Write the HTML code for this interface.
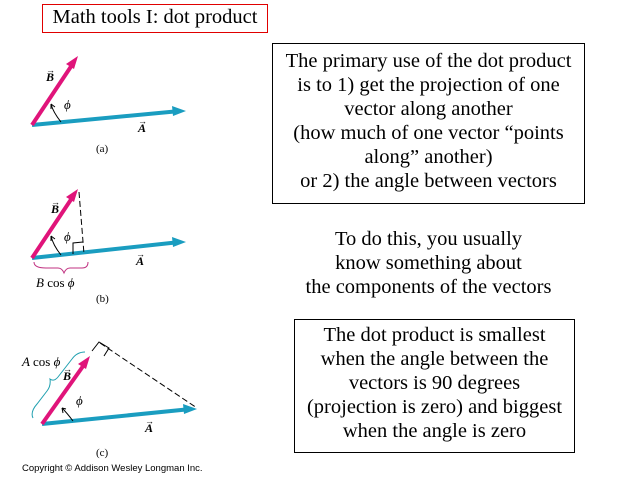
<!DOCTYPE html>
<html><head><style>
body{margin:0;width:640px;height:480px;background:#fff;position:relative;overflow:hidden;font-family:"Liberation Serif",serif;}
.t{position:absolute;font-size:20.5px;line-height:24px;text-align:center;color:#000;white-space:nowrap}
.box{position:absolute;border:1px solid #000;}
</style></head><body>
<div class="box" style="left:42px;top:4px;width:224px;height:27px;border-color:#e00000;"></div>
<div class="t" style="left:42px;top:5px;width:226px;">Math tools I: dot product</div>
<div class="box" style="left:272px;top:43px;width:311px;height:159px;"></div>
<div class="t" style="left:272px;top:49px;width:313px;">The primary use of the dot product<br>is to 1) get the projection of one<br>vector along another<br>(how much of one vector “points<br>along” another)<br>or 2) the angle between vectors</div>
<div class="t" style="left:272px;top:227px;width:313px;">To do this, you usually<br>know something about<br>the components of the vectors</div>
<div class="box" style="left:294px;top:319px;width:279px;height:132px;"></div>
<div class="t" style="left:294px;top:323px;width:281px;">The dot product is smallest<br>when the angle between the<br>vectors is 90 degrees<br>(projection is zero) and biggest<br>when the angle is zero</div>
<svg width="640" height="480" style="position:absolute;left:0;top:0" font-family="Liberation Serif">
<g stroke-width="4" fill="none">
<line x1="32" y1="125" x2="180" y2="111" stroke="#1a9dc0"/>
<polygon points="186,111 172,106 173,116" fill="#1a9dc0" stroke="none"/>
<line x1="32" y1="125" x2="74" y2="62" stroke="#e0147a"/>
<polygon points="78,56 66,64 74,69" fill="#e0147a" stroke="none"/>
<line x1="32" y1="258" x2="180" y2="242" stroke="#1a9dc0"/>
<polygon points="186,242 172,237 173,247" fill="#1a9dc0" stroke="none"/>
<line x1="32" y1="258" x2="74" y2="195" stroke="#e0147a"/>
<polygon points="78,189 66,197 74,202" fill="#e0147a" stroke="none"/>
<line x1="42" y1="424" x2="191" y2="409" stroke="#1a9dc0"/>
<polygon points="197,409 183,404 184,414" fill="#1a9dc0" stroke="none"/>
<line x1="42" y1="424" x2="86" y2="362" stroke="#e0147a"/>
<polygon points="90,356 78,364 86,369" fill="#e0147a" stroke="none"/>
</g>
<g stroke="#000" stroke-width="1" fill="none">
<path d="M61,122 Q53,112 51,104"/><path d="M51,104 l0,5 M51,104 l4,3"/>
<path d="M61,255 Q53,245 51,236"/><path d="M51,236 l0,5 M51,236 l4,3"/>
<path d="M73,421 Q67,413 62,408"/><path d="M62,408 l1,5 M62,408 l4,1"/>
<line x1="79" y1="192" x2="84" y2="254" stroke-dasharray="6,3"/>
<path d="M73,254 L73,243 L83,242"/>
<line x1="100" y1="343" x2="197" y2="408" stroke-dasharray="6,3"/>
<path d="M92,351 L99,342 L109,348 L104,356"/>
</g>
<path d="M34,262 q0,6 12,6 h12 q4,0 6,5 q2,-5 6,-5 h12 q6,0 6,-6" stroke="#c03080" fill="none"/>
<path d="M33,418 q-3,-6 4,-14 l10,-13 q4,-5 3,-12 q4,3 8,-2 l14,-18 q5,-7 13,-7" stroke="#20a0b0" fill="none"/>
<g font-size="12" font-weight="bold" font-style="italic">
<text x="46" y="81">B</text><text x="138" y="132">A</text>
<text x="51" y="213">B</text><text x="136" y="265">A</text>
<text x="63" y="380">B</text><text x="145" y="432">A</text>
</g>
<g font-size="9">
<text x="46" y="73">→</text><text x="138" y="124">→</text>
<text x="51" y="205">→</text><text x="136" y="257">→</text>
<text x="63" y="372">→</text><text x="145" y="424">→</text>
</g>
<g font-size="13" font-style="italic">
<text x="64" y="109">ϕ</text><text x="64" y="241">ϕ</text><text x="76" y="405">ϕ</text>
<text x="36" y="287">B <tspan font-style="normal">cos</tspan> ϕ</text>
<text x="22" y="366">A <tspan font-style="normal">cos</tspan> ϕ</text>
</g>
<g font-size="11">
<text x="96" y="152">(a)</text><text x="96" y="302">(b)</text><text x="96" y="456">(c)</text>
</g>
<text x="22" y="471" font-family="Liberation Sans" font-size="9.5">Copyright © Addison Wesley Longman  Inc.</text>
</svg>
</body></html>
